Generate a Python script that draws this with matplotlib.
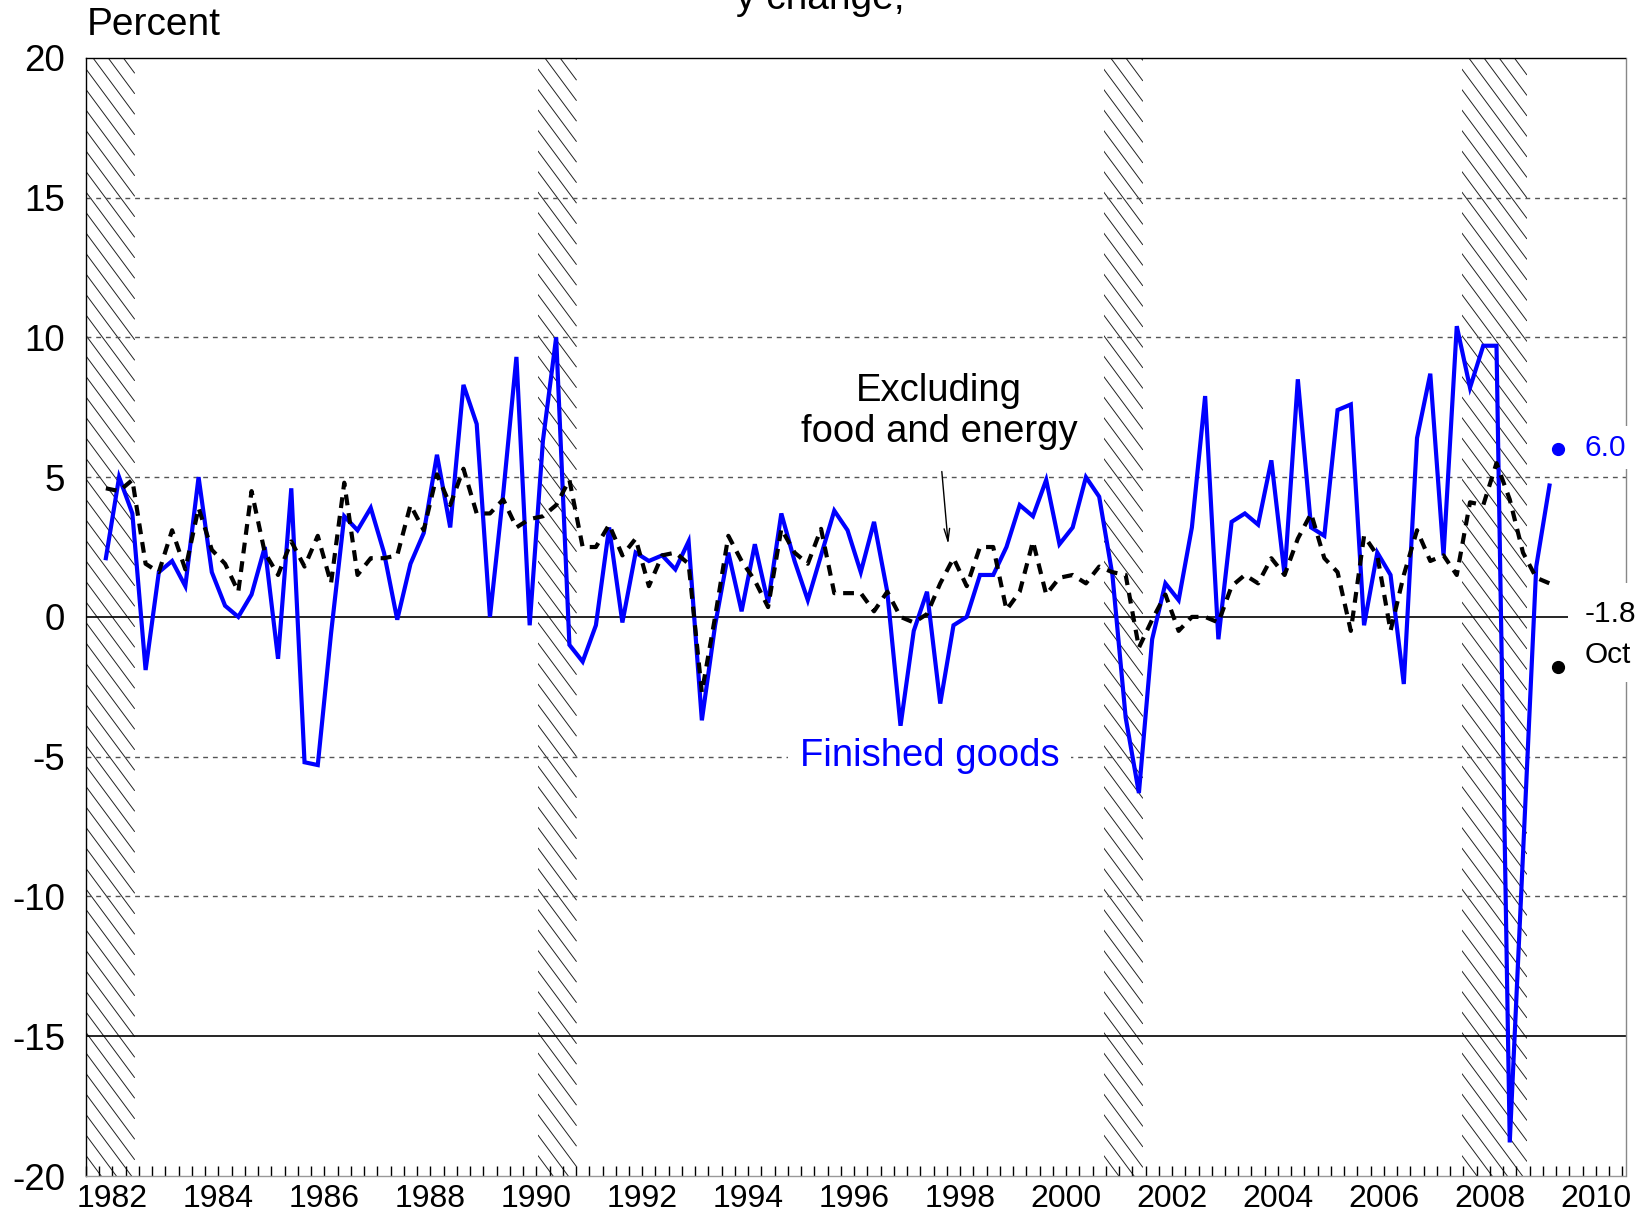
import numpy as np
import matplotlib
matplotlib.use("Agg")
import matplotlib.pyplot as plt
from matplotlib.collections import LineCollection
from matplotlib.patches import Rectangle
import logging
logging.getLogger('matplotlib.font_manager').setLevel(logging.ERROR)

plt.rcParams['font.family'] = ['Liberation Sans', 'DejaVu Sans']
plt.rcParams['axes.unicode_minus'] = False

# Quarterly data, first observation 1982 Q2 (plotted at quarter midpoints)
first_year = 1982
first_quarter = 2

finished_goods = [
    2.1, 5.0, 3.7, -1.9, 1.6, 2.0, 1.1, 5.0, 1.6, 0.4,
    0.0, 0.8, 2.5, -1.5, 4.6, -5.2, -5.3, -0.6, 3.6, 3.1,
    3.9, 2.3, -0.1, 1.9, 3.0, 5.8, 3.2, 8.3, 6.9, 0.0,
    4.4, 9.3, -0.3, 6.3, 10.0, -1.0, -1.6, -0.3, 3.2, -0.2,
    2.3, 2.0, 2.2, 1.7, 2.7, -3.7, -0.3, 2.3, 0.2, 2.6,
    0.5, 3.7, 2.0, 0.6, 2.2, 3.8, 3.1, 1.6, 3.4, 0.9,
    -3.9, -0.5, 0.9, -3.1, -0.3, 0.0, 1.5, 1.5, 2.5, 4.0,
    3.6, 4.9, 2.6, 3.2, 5.0, 4.3, 1.5, -3.6, -6.3, -0.8,
    1.2, 0.6, 3.2, 7.9, -0.8, 3.4, 3.7, 3.3, 5.6, 1.5,
    8.5, 3.2, 2.9, 7.4, 7.6, -0.3, 2.3, 1.5, -2.4, 6.4,
    8.7, 2.2, 10.4, 8.2, 9.7, 9.7, -18.8, -8.5, 1.8, 4.7,
]

ex_food_energy = [
    4.6, 4.5, 4.9, 1.9, 1.6, 3.1, 1.7, 3.9, 2.4, 1.9,
    0.9, 4.5, 2.3, 1.5, 2.7, 1.8, 2.9, 1.2, 4.8, 1.5,
    2.1, 2.1, 2.2, 4.0, 3.1, 5.1, 4.0, 5.3, 3.7, 3.7,
    4.2, 3.2, 3.5, 3.6, 4.0, 4.9, 2.5, 2.5, 3.3, 2.2,
    2.8, 1.1, 2.2, 2.3, 1.9, -2.7, 0.0, 2.9, 2.0, 1.3,
    0.35, 3.15, 2.3, 1.9, 3.15, 0.85, 0.85, 0.85, 0.2, 0.9,
    0.0, -0.2, 0.1, 1.2, 2.1, 1.1, 2.5, 2.5, 0.25, 0.9,
    2.7, 0.8, 1.4, 1.5, 1.2, 1.8, 1.6, 1.5, -1.1, -0.1,
    0.8, -0.5, 0.0, 0.0, -0.2, 1.1, 1.5, 1.2, 2.1, 1.5,
    2.8, 3.7, 2.1, 1.6, -0.5, 2.9, 2.2, -0.5, 1.5, 3.1,
    2.0, 2.2, 1.5, 4.1, 4.0, 5.5, 4.2, 2.3, 1.4, 1.2,
]

# Recessions (decimal years)
recession_start = [1981.5, 1990.53, 2001.21, 2007.97]
recession_end = [1982.92, 1991.26, 2001.95, 2009.2]

# Latest monthly readings (October)
latest_x = 2009.79
latest_finished = 6.0
latest_core = -1.8

y_ticks = [-20, -15, -10, -5, 0, 5, 10, 15, 20]
x_label_years = list(range(1982, 2011, 2))

n = len(finished_goods)
x = first_year + (first_quarter - 1) * 0.25 + 0.125 + 0.25 * np.arange(n)

fig = plt.figure(figsize=(16.48, 12.17), dpi=100)
ax = fig.add_axes([86 / 1648, 1 - 1176 / 1217, (1625.5 - 86) / 1648, (1176 - 57.8) / 1217])
XMIN, XMAX, YMIN, YMAX = 1982, 2011.06, -20, 20
ax.set_xlim(XMIN, XMAX)
ax.set_ylim(YMIN, YMAX)

# Hatched recession bands (steep back-diagonal lines)
bbox = ax.get_position()
px_per_x = bbox.width * fig.get_figwidth() * fig.dpi / (XMAX - XMIN)
px_per_y = bbox.height * fig.get_figheight() * fig.dpi / (YMAX - YMIN)
pix_slope = 1.35          # drop in pixels per pixel to the right
pix_spacing = 20.5        # vertical spacing in pixels
slope = pix_slope * px_per_x / px_per_y
step = pix_spacing / px_per_y
for s, e in zip(recession_start, recession_end):
    s_c = max(s, XMIN)
    rect = Rectangle((s_c, YMIN), e - s_c, YMAX - YMIN, transform=ax.transData,
                     facecolor='none', edgecolor='none')
    ax.add_patch(rect)
    segs = []
    y0 = YMIN
    while y0 <= YMAX + slope * (e - s_c) + step:
        segs.append([(s_c, y0), (e, y0 - slope * (e - s_c))])
        y0 += step
    lc = LineCollection(segs, colors='#222222', linewidths=0.7, zorder=0.5)
    ax.add_collection(lc)
    lc.set_clip_path(rect)

for v in [15, 10, 5, -5, -10]:
    ax.axhline(v, color='#555555', lw=1.0, ls=(0, (3.5, 3.5)), zorder=0.8)
for v in [0, -15]:
    ax.axhline(v, color='black', lw=1.2, zorder=0.9)

ax.plot(x, finished_goods, color='#0000FF', lw=3.0, zorder=2, solid_joinstyle='miter')
ax.plot(x, ex_food_energy, color='black', lw=3.0, dashes=(2.6, 1.9), zorder=2.1)

# spines
ax.spines['left'].set_color('black')
ax.spines['top'].set_color('black')
ax.spines['right'].set_color('#888888')
ax.spines['bottom'].set_color('#999999')
for sp in ax.spines.values():
    sp.set_linewidth(1.0)

ax.set_yticks(y_ticks)
ax.set_yticklabels([str(v) for v in y_ticks])
ax.tick_params(axis='y', length=0, pad=15, labelsize=26.5)

ax.xaxis.remove_overlapping_locs = False
ax.set_xticks(np.arange(1982, 2011.01, 0.25))
ax.set_xticklabels([])
ax.tick_params(axis='x', which='major', direction='in', length=7, width=1, color='black')
ax.set_xticks([yr + 0.5 for yr in x_label_years], minor=True)
ax.set_xticklabels([str(yr) for yr in x_label_years], minor=True)
ax.tick_params(axis='x', which='minor', length=0, pad=6, labelsize=23)

# annotations
ax.text(1998.1, 7.35, 'Excluding\nfood and energy', ha='center', va='center',
        fontsize=27.5, linespacing=1.2, zorder=4)
ax.annotate('', xy=(1998.28, 2.5), xytext=(1998.15, 5.3),
            arrowprops=dict(arrowstyle='->,head_length=0.9,head_width=0.2', lw=1.0, color='black'),
            zorder=4)
ax.text(1997.92, -4.96, 'Finished goods', ha='center', va='center', fontsize=27.5,
        color='#0000FF', zorder=4,
        bbox=dict(boxstyle='square,pad=0.3', fc='white', ec='none'))

ax.plot([latest_x], [latest_finished], 'o', color='#0000FF', ms=8.5, clip_on=False, zorder=6)
ax.plot([latest_x], [latest_core], 'o', color='black', ms=8.5, clip_on=False, zorder=6)
ax.text(2010.29, latest_finished + 0.05, f'{latest_finished:.1f}', ha='left', va='center',
        fontsize=21.5, color='#0000FF', clip_on=False, zorder=5,
        bbox=dict(boxstyle='square,pad=0.25', fc='white', ec='none'))
ax.text(2010.29, 0.12, f'{latest_core:.1f}', ha='left', va='center',
        fontsize=21.5, color='black', clip_on=False, zorder=5,
        bbox=dict(boxstyle='square,pad=0.55', fc='white', ec='none'))
ax.text(2010.29, -1.35, 'Oct', ha='left', va='center',
        fontsize=21.5, color='black', clip_on=False, zorder=5,
        bbox=dict(boxstyle='square,pad=0.45', fc='white', ec='none'))

fig.text(87 / 1648, 1 - 35 / 1217, 'Percent', ha='left', va='baseline', fontsize=28)
fig.text(905 / 1648, 1 - 9 / 1217, 'y change,', ha='right', va='baseline', fontsize=28)

fig.savefig('out.png', dpi=100)
